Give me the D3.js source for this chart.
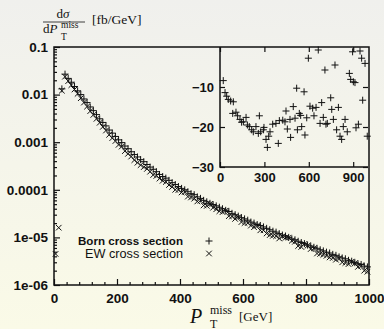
<!DOCTYPE html>
<html>
<head>
<meta charset="utf-8">
<script src="https://cdn.jsdelivr.net/npm/d3@7"></script>
<style>
  html, body { margin: 0; padding: 0; }
  body { width: 384px; height: 329px; overflow: hidden; }
  svg text { fill: #111; }
</style>
</head>
<body>
<div id="chart"></div>
<script>
// bin centres [GeV]
const binCenters = [5, 15, 25, 35, 45, 55, 65, 75, 85, 95,
  105, 115, 125, 135, 145, 155, 165, 175, 185, 195,
  205, 215, 225, 235, 245, 255, 265, 275, 285, 295,
  305, 315, 325, 335, 345, 355, 365, 375, 385, 395,
  405, 415, 425, 435, 445, 455, 465, 475, 485, 495,
  505, 515, 525, 535, 545, 555, 565, 575, 585, 595,
  605, 615, 625, 635, 645, 655, 665, 675, 685, 695,
  705, 715, 725, 735, 745, 755, 765, 775, 785, 795,
  805, 815, 825, 835, 845, 855, 865, 875, 885, 895,
  905, 915, 925, 935, 945, 955, 965, 975, 985, 995];

// Born cross section [fb/GeV]
const bornXsec = [null, null, 1.32e-2, 2.69e-2, 2.19e-2, 1.82e-2, 1.48e-2, 1.20e-2, 1.00e-2, 8.1e-3,
  6.8e-3, 5.5e-3, 4.6e-3, 3.8e-3, 3.1e-3, 2.6e-3, 2.2e-3, 1.8e-3, 1.55e-3, 1.32e-3,
  1.12e-3, 9.8e-4, 8.3e-4, 7.3e-4, 6.3e-4, 5.5e-4, 4.9e-4, 4.3e-4, 3.9e-4, 3.4e-4,
  3.0e-4, 2.7e-4, 2.4e-4, 2.1e-4, 1.9e-4, 1.76e-4, 1.58e-4, 1.41e-4, 1.29e-4, 1.17e-4,
  1.07e-4, 1.00e-4, 9.1e-5, 8.3e-5, 7.9e-5, 7.1e-5, 6.6e-5, 6.0e-5, 5.6e-5, 5.2e-5,
  4.9e-5, 4.6e-5, 4.3e-5, 4.0e-5, 3.7e-5, 3.5e-5, 3.2e-5, 3.0e-5, 2.8e-5, 2.6e-5,
  2.45e-5, 2.3e-5, 2.1e-5, 2.0e-5, 1.86e-5, 1.78e-5, 1.66e-5, 1.55e-5, 1.45e-5, 1.35e-5,
  1.29e-5, 1.20e-5, 1.12e-5, 1.07e-5, 1.00e-5, 9.3e-6, 8.9e-6, 8.3e-6, 7.8e-6, 7.4e-6,
  6.9e-6, 6.6e-6, 6.2e-6, 5.9e-6, 5.5e-6, 5.2e-6, 4.9e-6, 4.7e-6, 4.4e-6, 4.2e-6,
  3.9e-6, 3.7e-6, 3.55e-6, 3.3e-6, 3.16e-6, 2.95e-6, 2.8e-6, 2.7e-6, 2.5e-6, 2.4e-6];

// EW corrected cross section [fb/GeV]
const ewXsec = [4.5e-6, 1.6e-5, 1.21e-2, 2.38e-2, 1.92e-2, 1.58e-2, 1.28e-2, 1.04e-2, 8.4e-3, 6.8e-3,
  5.6e-3, 4.5e-3, 3.75e-3, 3.1e-3, 2.56e-3, 2.1e-3, 1.76e-3, 1.43e-3, 1.22e-3, 1.06e-3,
  8.8e-4, 8.1e-4, 6.5e-4, 5.7e-4, 5.0e-4, 4.2e-4, 3.7e-4, 3.3e-4, 3.0e-4, 2.75e-4,
  2.4e-4, 2.05e-4, 1.96e-4, 1.72e-4, 1.55e-4, 1.46e-4, 1.26e-4, 1.15e-4, 1.0e-4, 9.9e-5,
  8.8e-5, 9.0e-5, 7.2e-5, 6.9e-5, 6.5e-5, 5.7e-5, 5.9e-5, 4.7e-5, 4.6e-5, 5.05e-5,
  4.2e-5, 3.9e-5, 3.55e-5, 3.4e-5, 3.65e-5, 2.8e-5, 2.75e-5, 2.45e-5, 2.65e-5, 2.1e-5,
  2.0e-5, 2.0e-5, 1.77e-5, 1.64e-5, 1.78e-5, 1.41e-5, 1.41e-5, 1.21e-5, 1.12e-5, 1.08e-5,
  1.06e-5, 9.5e-6, 1.05e-5, 9.8e-6, 9.9e-6, 8.5e-6, 8.1e-6, 6.6e-6, 6.3e-6, 7.3e-6,
  6.7e-6, 5.7e-6, 5.9e-6, 4.6e-6, 4.5e-6, 4.3e-6, 4.1e-6, 3.8e-6, 3.7e-6, 3.4e-6,
  3.6e-6, 3.0e-6, 2.9e-6, 2.75e-6, 3.1e-6, 2.85e-6, 2.4e-6, 2.55e-6, 2.0e-6, 1.9e-6];

// inset: relative EW correction [%]
const deltaX = [22, 34, 45, 56, 72, 90, 86, 108, 119, 135,
  146, 158, 176, 185, 198, 214, 225, 243, 259, 266,
  275, 293, 297, 311, 320, 329, 338, 356, 378, 394,
  401, 424, 439, 446, 455, 473, 477, 495, 507, 518,
  523, 536, 545, 552, 568, 574, 586, 597, 608, 626,
  635, 649, 664, 676, 687, 698, 709, 716, 725, 748,
  755, 766, 777, 788, 800, 811, 822, 833, 845, 860,
  874, 883, 896, 901, 912, 919, 935, 946, 957, 964,
  980, 995];
const deltaEW = [-8.4, -11.4, -12.3, -13.1, -13.5, -13.7, -16.6, -16.3, -17.2, -18.1,
  -18.8, -18.7, -17.6, -19.5, -19.9, -20.7, -21.2, -19.9, -21.6, -17.2,
  -21.2, -20.7, -20.1, -23.1, -25.1, -22.3, -21.2, -19.3, -19.1, -24.1,
  -18.4, -18.3, -18.7, -16.0, -20.5, -18.1, -22.6, -14.9, -17.8, -10.3,
  -20.7, -16.6, -17.1, -19.9, -11.2, -22.0, -17.7, -2.8, -14.8, -15.3,
  -17.2, -15.1, -0.75, -19.1, -13.9, -17.6, -5.75, -19.3, -19.1, -12.7,
  -15.6, -18.1, -4.5, -20.7, -15.1, -22.3, -23.1, -19.9, -18.1, -21.2,
  -6.6, -8.1, -1.2, -8.7, -8.9, -20.2, -19.3, -1.0, -2.8, -13.3,
  -4.1, -22.3];

const yTicks = [1e-6, 1e-5, 1e-4, 1e-3, 1e-2, 1e-1];
const yTickLabels = ['1e-06', '1e-05', '0.0001', '0.001', '0.01', '0.1'];
const xTicks = [0, 200, 400, 600, 800, 1000];
const insetXTicks = [0, 300, 600, 900];
const insetYTicks = [-30, -20, -10];
const legendLabels = ['Born cross section', 'EW cross section'];

const width = 384, height = 329;
const margin = { top: 47, right: 15, bottom: 44, left: 54 };
const inset = { left: 220, right: 368, top: 47, bottom: 167 };
const ink = '#111';

const svg = d3.select('#chart')
  .append('svg')
  .attr('width', width)
  .attr('height', height)
  .style('font-family', '"Liberation Sans", Arial, sans-serif');

// background gradient
const grad = svg.append('defs').append('linearGradient')
  .attr('id', 'bg').attr('x1', 0).attr('y1', 0).attr('x2', 0).attr('y2', 1);
grad.append('stop').attr('offset', '0%').attr('stop-color', '#f0f0ed');
grad.append('stop').attr('offset', '100%').attr('stop-color', '#fafae7');
svg.append('rect').attr('width', width).attr('height', height).attr('fill', 'url(#bg)');

// scales
const x = d3.scaleLinear().domain([0, 1000]).range([margin.left, width - margin.right]);
const y = d3.scaleLog().domain([1e-6, 0.1]).range([height - margin.bottom, margin.top]);
const xi = d3.scaleLinear().domain([0, 1000]).range([inset.left, inset.right]);
const yi = d3.scaleLinear().domain([-30, 0]).range([inset.bottom, inset.top]);

// minor tick positions
const yMinor = [];
yTicks.slice(0, -1).forEach(d => { for (let k = 2; k < 10; k++) yMinor.push(d * k); });
const xMinor = d3.range(0, 1001, 40).filter(d => d % 200 !== 0);

// main y axis
svg.append('g')
  .attr('transform', `translate(${margin.left},0)`)
  .call(d3.axisLeft(y).tickValues(yTicks)
    .tickFormat((d, i) => yTickLabels[i]).tickSizeInner(-6).tickSizeOuter(0).tickPadding(6));
svg.append('g')
  .attr('transform', `translate(${margin.left},0)`)
  .call(d3.axisLeft(y).tickValues(yMinor).tickFormat('').tickSizeInner(-3).tickSizeOuter(0));

// main x axis
svg.append('g')
  .attr('transform', `translate(0,${height - margin.bottom})`)
  .call(d3.axisBottom(x).tickValues(xTicks).tickFormat(d3.format('d'))
    .tickSizeInner(-6).tickSizeOuter(0).tickPadding(8));
svg.append('g')
  .attr('transform', `translate(0,${height - margin.bottom})`)
  .call(d3.axisBottom(x).tickValues(xMinor).tickFormat('').tickSizeInner(-3).tickSizeOuter(0));

svg.selectAll('.domain').remove();
svg.selectAll('.tick line').attr('stroke', ink).attr('stroke-width', 1.2);
svg.selectAll('.tick text')
  .attr('font-size', 13.5).attr('font-weight', 'bold').attr('fill', ink)
  .attr('font-family', '"Liberation Sans", Arial, sans-serif');

// frame
svg.append('rect')
  .attr('x', margin.left).attr('y', margin.top)
  .attr('width', width - margin.left - margin.right)
  .attr('height', height - margin.top - margin.bottom)
  .attr('fill', 'none').attr('stroke', ink).attr('stroke-width', 1.5);

// marker shapes
const plus = (cx, cy, r) => `M${cx - r},${cy}H${cx + r}M${cx},${cy - r}V${cy + r}`;
const cross = (cx, cy, r) => `M${cx - r},${cy - r}L${cx + r},${cy + r}M${cx - r},${cy + r}L${cx + r},${cy - r}`;

// main data
const bornPts = binCenters.map((c, i) => ({ x: c, v: bornXsec[i] })).filter(d => d.v);
const ewPts = binCenters.map((c, i) => ({ x: c, v: ewXsec[i] })).filter(d => d.v);

svg.append('g').selectAll('path').data(ewPts).join('path')
  .attr('d', d => cross(x(d.x), y(d.v), 2.8))
  .attr('stroke', ink).attr('stroke-width', 1).attr('fill', 'none');
svg.append('g').selectAll('path').data(bornPts).join('path')
  .attr('d', d => plus(x(d.x), y(d.v), 3.5))
  .attr('stroke', ink).attr('stroke-width', 1).attr('fill', 'none');

// legend
const leg = svg.append('g');
leg.append('text').attr('x', 183).attr('y', 244.5).attr('text-anchor', 'end')
  .attr('font-size', 11.5).attr('font-weight', 'bold')
  .attr('textLength', 105).attr('lengthAdjust', 'spacingAndGlyphs').text(legendLabels[0]);
leg.append('text').attr('x', 183).attr('y', 258).attr('text-anchor', 'end')
  .attr('font-size', 12)
  .attr('textLength', 98).attr('lengthAdjust', 'spacingAndGlyphs').text(legendLabels[1]);
leg.append('path').attr('d', plus(209, 241, 3.5)).attr('stroke', ink).attr('fill', 'none');
leg.append('path').attr('d', cross(209, 253.5, 2.8)).attr('stroke', ink).attr('fill', 'none');

// inset
const ins = svg.append('g');
ins.append('g')
  .attr('transform', `translate(0,${inset.bottom})`)
  .call(d3.axisBottom(xi).tickValues(insetXTicks).tickFormat(d3.format('d'))
    .tickSizeInner(-5).tickSizeOuter(0).tickPadding(6));
ins.append('g')
  .attr('transform', `translate(0,${inset.top})`)
  .call(d3.axisTop(xi).tickValues(insetXTicks).tickFormat('').tickSizeInner(-5).tickSizeOuter(0));
ins.append('g')
  .attr('transform', `translate(${inset.left},0)`)
  .call(d3.axisLeft(yi).tickValues(insetYTicks).tickFormat(d3.format('d'))
    .tickSizeInner(-5).tickSizeOuter(0).tickPadding(6));
ins.append('g')
  .attr('transform', `translate(${inset.right},0)`)
  .call(d3.axisRight(yi).tickValues(insetYTicks).tickFormat('').tickSizeInner(-5).tickSizeOuter(0));
ins.selectAll('.domain').remove();
ins.selectAll('.tick line').attr('stroke', ink).attr('stroke-width', 1.2);
ins.selectAll('.tick text')
  .attr('font-size', 13).attr('font-weight', 'bold').attr('fill', ink)
  .attr('font-family', '"Liberation Sans", Arial, sans-serif');
ins.append('path')
  .attr('d', `M${inset.left},${inset.top}V${inset.bottom}H${inset.right}`)
  .attr('fill', 'none').attr('stroke', ink).attr('stroke-width', 1.5);

ins.append('g').selectAll('path').data(deltaX.map((d, i) => [d, deltaEW[i]])).join('path')
  .attr('d', d => plus(xi(d[0]), yi(d[1]), 3.5))
  .attr('stroke', ink).attr('stroke-width', 1).attr('fill', 'none');

// axis titles (TeX-like)
const serif = '"Liberation Serif", "DejaVu Serif", serif';
const ylab = svg.append('g').style('font-family', serif);
ylab.append('text').attr('x', 63).attr('y', 18).attr('text-anchor', 'middle').attr('font-size', 13)
  .html('d<tspan font-style="italic">σ</tspan>');
ylab.append('line').attr('x1', 43).attr('x2', 85).attr('y1', 22).attr('y2', 22)
  .attr('stroke', ink).attr('stroke-width', 0.8);
ylab.append('text').attr('x', 43).attr('y', 33).attr('font-size', 13)
  .html('d<tspan font-style="italic">P</tspan>');
ylab.append('text').attr('x', 61).attr('y', 28).attr('font-size', 9.5).text('miss');
ylab.append('text').attr('x', 61).attr('y', 39.5).attr('font-size', 9.5).text('T');
ylab.append('text').attr('x', 92).attr('y', 24).attr('font-size', 13.5).text('[fb/GeV]');

const xlab = svg.append('g').style('font-family', serif);
xlab.append('text').attr('x', 190).attr('y', 323).attr('font-size', 20)
  .attr('font-style', 'italic').text('P');
xlab.append('text').attr('x', 210).attr('y', 313.5).attr('font-size', 12).text('miss');
xlab.append('text').attr('x', 210).attr('y', 327.5).attr('font-size', 12).text('T');
xlab.append('text').attr('x', 239).attr('y', 321).attr('font-size', 13).text('[GeV]');
</script>
</body>
</html>
